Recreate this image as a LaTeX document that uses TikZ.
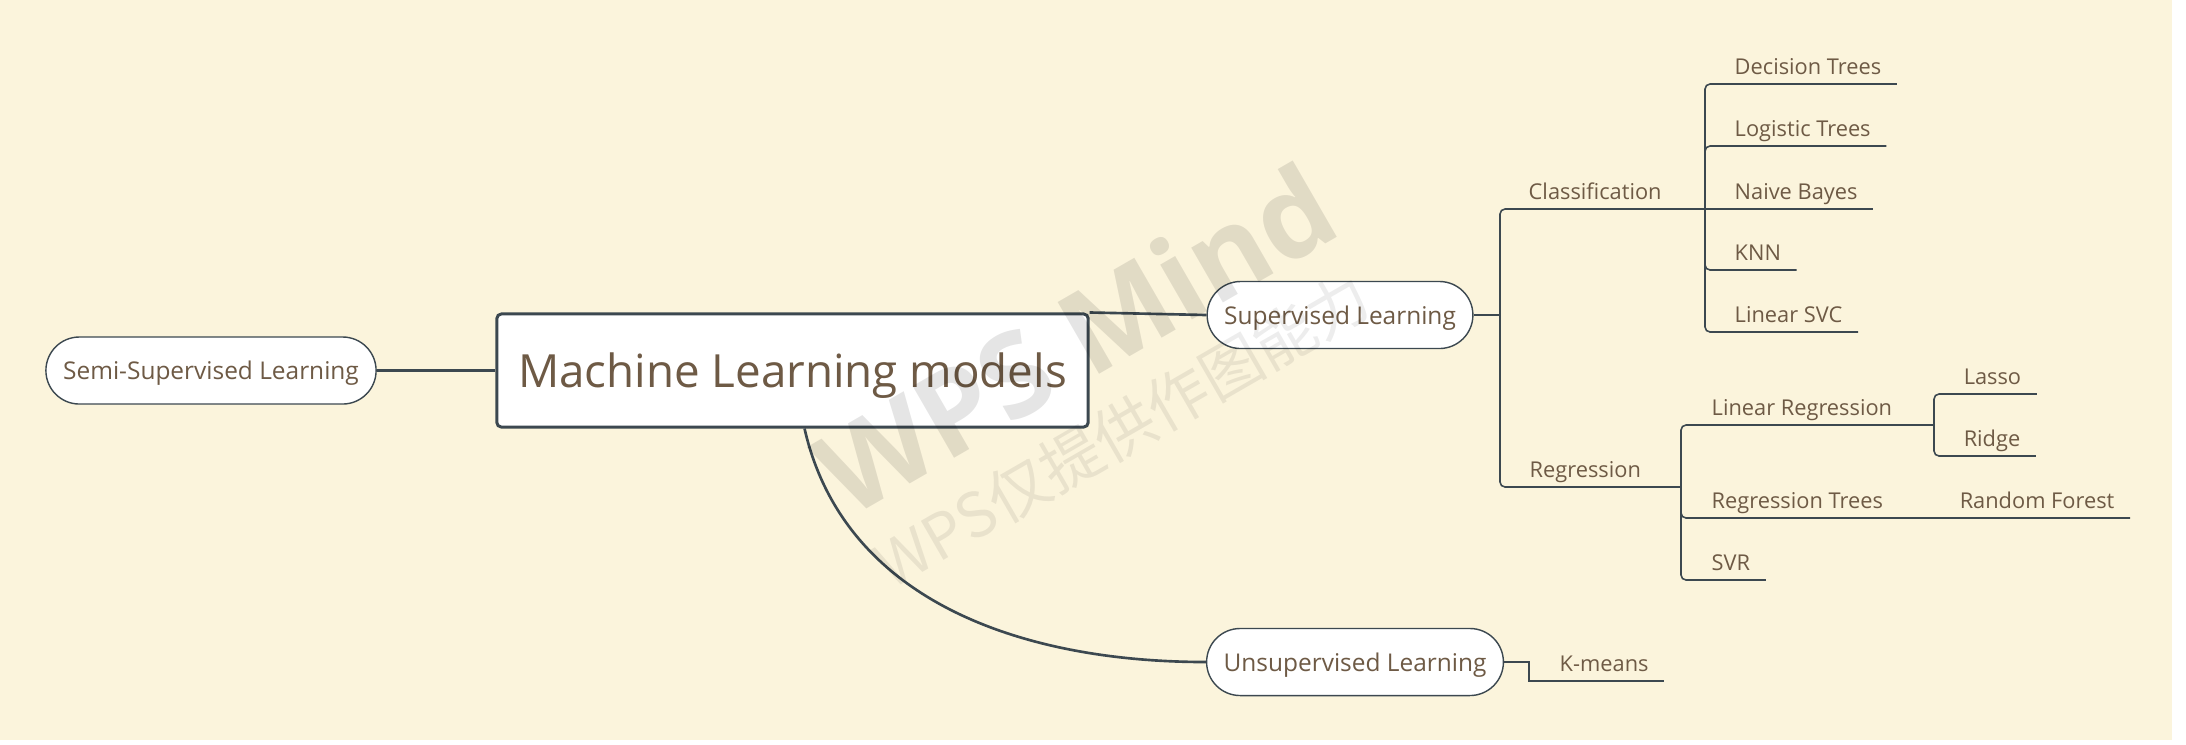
\documentclass[tikz,border=0pt]{standalone}
\usepackage{fontspec}
\setmainfont{Open Sans}
\newfontfamily\cjkfont{Noto Sans CJK SC}
\definecolor{cBg}{HTML}{FBF4DC}
\definecolor{cInk}{HTML}{6E5A45}
\definecolor{cLine}{HTML}{3C4850}
\tikzset{
  every node/.style={text=cInk},
  rootbox/.style={draw=cLine, line width=0.85pt, fill=white, rounded corners=0.045cm,
     minimum width=5.91cm, minimum height=1.13cm, text depth=0pt, font=\fontsize{13}{15}\selectfont},
  topic/.style={draw=cLine, line width=0.4pt, fill=white, rounded corners=0.335cm,
     minimum height=0.67cm, inner xsep=0.17cm, text depth=0pt, font=\fontsize{6.95}{8}\selectfont},
  sub/.style={anchor=south west, inner xsep=0.15cm, inner ysep=0.03cm,
     text height=0.17cm, text depth=0.06cm, font=\fontsize{6.2}{7.5}\selectfont},
  limb/.style={draw=cLine, line width=0.75pt},
  twig/.style={draw=cLine, line width=0.45pt, rounded corners=0.05cm},
  wm/.style={text=black, opacity=0.1, rotate=30, inner sep=0pt},
}
\begin{document}
\begin{tikzpicture}[x=0.01cm, y=-0.01cm]
\fill[white] (0,0) rectangle (2186,744);
\fill[cBg] (0,0) rectangle (2172,740);
\useasboundingbox (0,0) rectangle (2186,744);
% main topics
\node[rootbox] (root) at (792.5,370.5) {Machine Learning models};
\node[topic, minimum width=3.30cm] (semi) at (211,370.5) {Semi-Supervised Learning};
\node[topic, minimum width=2.64cm] (sup) at (1340,315) {Supervised Learning};
\node[topic, minimum width=2.94cm] (uns) at (1355,662) {Unsupervised Learning};
% subtopics
\node[sub] (cls) at (1513,209) {Classification};
\node[sub] (reg) at (1514,487) {Regression};
\node[sub] (dt) at (1719,84) {Decision Trees};
\node[sub] (lt) at (1719,146) {Logistic Trees};
\node[sub] (nb) at (1719,209) {Naive Bayes};
\node[sub] (knn) at (1719,270) {KNN};
\node[sub] (svc) at (1719,332) {Linear SVC};
\node[sub] (lin) at (1696,425) {Linear Regression};
\node[sub] (rt) at (1696,518) {Regression Trees};
\node[sub] (svr) at (1696,580) {SVR};
\node[sub] (lasso) at (1948,394) {Lasso};
\node[sub] (ridge) at (1948,456) {Ridge};
\node[sub] (rf) at (1944,518) {Random Forest};
\node[sub] (km) at (1544,681) {K-means};
\coordinate (supT) at (1500,315);
\coordinate (clsT) at (1705,209);
\coordinate (regT) at (1681,487);
\coordinate (linT) at (1934,425);
\coordinate (unsT) at (1529,662);
% connectors
\draw[limb] (root.west) -- (semi.east);
\draw[limb] (root.north east) -- (sup.west);
\draw[limb] ([xshift=0.12cm]root.south) .. controls +(40,175) and +(-180,0) .. (uns.west);
\draw[twig] (sup.east) -- (supT);
\foreach \n/\t in {cls/clsT, reg/regT}
  \draw[twig] (supT) -- (\n.south -| supT) -- (\t);
\foreach \n in {dt, lt, knn, svc}
  \draw[twig] (clsT) -- (\n.south -| clsT) -- (\n.south east);
\draw[twig] (clsT) -- (nb.south east);
\draw[twig] (regT) -- (lin.south -| regT) -- (linT);
\draw[twig] (regT) -- (rt.south -| regT) -- (rf.south east);
\draw[twig] (regT) -- (svr.south -| regT) -- (svr.south east);
\foreach \n in {lasso, ridge}
  \draw[twig] (linT) -- (\n.south -| linT) -- (\n.south east);
\draw[twig, sharp corners] (uns.east) -- (unsT) -- (km.south -| unsT) -- (km.south east);
% watermark
\node[wm, font=\bfseries\fontsize{33}{36}\selectfont] (wmA) at (1075,338) {WPS Mind};
\node[wm, opacity=0.07, font=\cjkfont\fontsize{17.5}{20}\selectfont] (wmB) at (1122,430) {WPS仅提供作图能力};
\end{tikzpicture}
\end{document}
